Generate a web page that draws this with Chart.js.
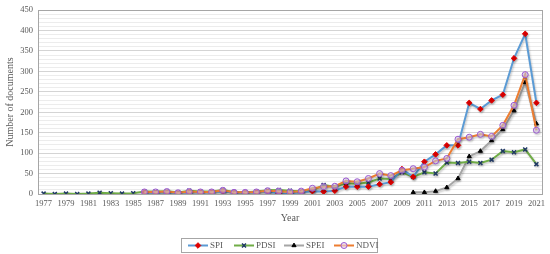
<!DOCTYPE html>
<html>
<head>
<meta charset="utf-8">
<script src="https://cdn.jsdelivr.net/npm/chart.js@4.4.1/dist/chart.umd.min.js"></script>
<style>
  html, body { margin: 0; padding: 0; background: #fff; }
  #wrap { width: 550px; height: 254px; position: relative; }
</style>
</head>
<body>
<div id="wrap"><canvas id="docs"></canvas></div>
<script>
// data
const years = [];
for (let y = 1977; y <= 2021; y++) years.push(String(y));

const spi = [null, null, null, null, null, null, null, null, null,
  4, 3, 4, 2, 5, 4, 4, 7, 3, 3, 4, 6, 1, 2,
  4, 7, 6, 8, 18, 18, 18, 24, 29, 61,
  42, 79, 97, 119, 119, 223, 208, 229, 243, 332, 392, 223];

const pdsi = [1, 0, 1, 0, 1, 3, 2, 1, 2,
  6, 6, 7, 4, 8, 6, 6, 10, 5, 4, 6, 9, 10, 8,
  7, 9, 22, 18, 26, 25, 28, 38, 37, 53,
  42, 53, 50, 77, 76, 79, 76, 84, 105, 102, 109, 73];

const spei = [null, null, null, null, null, null, null, null, null,
  null, null, null, null, null, null, null, null, null, null, null, null, null, null,
  null, null, null, null, null, null, null, null, null, null,
  4, 4, 7, 16, 38, 92, 105, 131, 158, 204, 273, 172];

const ndvi = [null, null, null, null, null, null, null, null, null,
  5, 5, 6, 3, 6, 5, 5, 9, 4, 4, 5, 8, 7, 5,
  7, 14, 18, 19, 32, 30, 38, 50, 45, 58,
  62, 66, 81, 87, 134, 139, 146, 141, 168, 217, 292, 156];

const seriesStyle = [
  { label: 'SPI',  line: '#5B9BD5', fill: '#E00000', edge: '#E00000', shape: 'rectRot', r: 2.8 },
  { label: 'PDSI', line: '#70AD47', fill: '#1F3864', edge: '#1F3864', shape: 'crossRot', r: 2.8 },
  { label: 'SPEI', line: '#A5A5A5', fill: '#000000', edge: '#000000', shape: 'triangle', r: 2.4 },
  { label: 'NDVI', line: '#ED7D31', fill: 'rgba(230,215,245,0.6)', edge: '#9B59D0', shape: 'circle', r: 3 }
];
const seriesData = [spi, pdsi, spei, ndvi];
const drawOrder = [2, 3, 4, 1];

const serif = '"Liberation Serif", "Times New Roman", serif';

// gray box round the plot, soft shadow under lines, legend
const extras = {
  id: 'extras',
  beforeDatasetsDraw(chart) {
    chart.ctx.save();
    chart.ctx.shadowColor = 'rgba(0,0,0,0.22)';
    chart.ctx.shadowBlur = 2;
    chart.ctx.shadowOffsetX = 1;
    chart.ctx.shadowOffsetY = 1.5;
  },
  afterDatasetsDraw(chart) {
    chart.ctx.restore();
  },
  afterDraw(chart) {
    const ctx = chart.ctx;
    const a = chart.chartArea;
    ctx.save();
    ctx.strokeStyle = '#a6a6a6';
    ctx.lineWidth = 1;
    ctx.strokeRect(Math.round(a.left) + 0.5, Math.round(a.top) + 0.5,
      Math.round(a.right - a.left), Math.round(a.bottom - a.top));

    // legend
    const bx = 181, by = 238, bw = 196, bh = 14;
    ctx.fillStyle = '#fff';
    ctx.fillRect(bx, by, bw, bh);
    ctx.strokeStyle = '#a6a6a6';
    ctx.strokeRect(bx + 0.5, by + 0.5, bw, bh);
    ctx.font = '9px ' + serif;
    ctx.textBaseline = 'middle';
    const starts = [188, 234, 284, 334];
    const cy = by + bh / 2 + 0.5;
    seriesStyle.forEach((s, i) => {
      const x0 = starts[i];
      ctx.strokeStyle = s.line;
      ctx.lineWidth = 2;
      ctx.beginPath();
      ctx.moveTo(x0, cy);
      ctx.lineTo(x0 + 20, cy);
      ctx.stroke();
      ctx.fillStyle = s.fill;
      ctx.strokeStyle = s.edge;
      ctx.lineWidth = s.shape === 'crossRot' ? 1.5 : 1;
      Chart.helpers.drawPoint(ctx, { pointStyle: s.shape, radius: s.r, rotation: 0, borderWidth: ctx.lineWidth }, x0 + 10, cy);
      ctx.fillStyle = '#595959';
      ctx.fillText(s.label, x0 + 22, cy);
    });
    ctx.restore();
  }
};

const ctx = document.querySelector('#docs').getContext('2d');

const datasets = seriesStyle.map((s, i) => ({
  label: s.label,
  data: seriesData[i],
  borderColor: s.line,
  borderWidth: 2,
  backgroundColor: s.fill,
  pointStyle: s.shape,
  pointRadius: s.r,
  pointBorderColor: s.edge,
  pointBackgroundColor: s.fill,
  pointBorderWidth: s.shape === 'crossRot' ? 1.5 : 1,
  tension: 0,
  spanGaps: false,
  order: drawOrder[i]
}));

const chart = new Chart(ctx, {
  type: 'line',
  data: { labels: years, datasets: datasets },
  options: {
    responsive: true,
    maintainAspectRatio: false,
    animation: false,
    layout: { padding: { top: 9, right: 8, bottom: 28, left: 0 } },
    plugins: {
      legend: { display: false },
      tooltip: { enabled: false }
    },
    scales: {
      x: {
        offset: true,
        grid: { display: false, drawTicks: false },
        border: { display: false },
        afterFit(scale) { scale.height = 32; },
        ticks: {
          autoSkip: false,
          maxRotation: 0,
          padding: 5,
          color: '#595959',
          font: { family: serif, size: 8.5 },
          callback(value, index) { return index % 2 === 0 ? this.getLabelForValue(value) : ''; }
        },
        title: {
          display: true,
          text: 'Year',
          color: '#595959',
          font: { family: serif, size: 10 },
          padding: { top: 0, bottom: 2 }
        }
      },
      y: {
        min: 0,
        max: 450,
        afterFit(scale) { scale.width = 38; },
        grid: {
          drawTicks: false,
          color(c) { return c.tick && c.tick.value % 50 === 0 ? '#d4d4d4' : '#ececec'; },
          lineWidth: 1
        },
        border: { display: false },
        ticks: {
          stepSize: 10,
          autoSkip: false,
          padding: 5,
          color: '#595959',
          font: { family: serif, size: 8.5 },
          callback(value) { return value % 50 === 0 ? value : ''; }
        },
        title: {
          display: true,
          text: 'Number of documents',
          color: '#595959',
          font: { family: serif, size: 10 },
          padding: { top: 4, bottom: 0 }
        }
      }
    }
  },
  plugins: [extras]
});
</script>
</body>
</html>
